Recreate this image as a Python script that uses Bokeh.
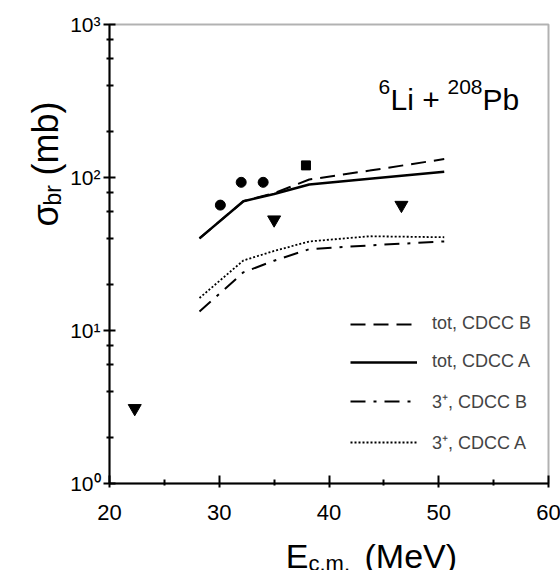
import math
from bokeh.plotting import figure
from bokeh.models import Label, Legend, LegendItem, FixedTicker, Range1d, BoxAnnotation
from bokeh.embed import file_html
from bokeh.resources import INLINE

# ---- data ----
circ_e = [30.1, 32.0, 34.0]
circ_sig = [66, 93, 93]
sq_e = [37.9]
sq_sig = [120]
tri_e = [22.3, 35.0, 46.6]
tri_sig = [3.1, 53, 66]

calc_e = [28.2, 32.2, 35.0, 38.2, 43.7, 50.5]
tot_cdcc_b = [40, 70, 79, 97, 111, 132]
tot_cdcc_a = [40, 70, 78, 90, 98, 109]
ex3_cdcc_b = [13.3, 24.0, 28.6, 34.0, 36.0, 38.2]
ex3_cdcc_a = [16.3, 28.7, 33.1, 38.2, 41.3, 40.7]

x_start, x_end = 20, 60
y_start, y_end = 1, 1000
x_ticks = [20, 30, 40, 50, 60]
x_tick_labels = ["20", "30", "40", "50", "60"]
x_minor = [25, 35, 45, 55]
y_ticks = [1, 10, 100, 1000]
y_tick_labels = ["10\u2070", "10\u00b9", "10\u00b2", "10\u00b3"]
y_minor = [m * d for d in (1, 10, 100) for m in (2, 4, 6, 8)]

FONT = "Liberation Sans"

# ---- layout: the frame spans the whole window; the plot box sits inside it ----
LEFT, TOP = 10, 12
FW, FH = 552, 558
BOX_L, BOX_W, BOX_T, BOX_H = 99, 439, 12, 459
kx = (x_end - x_start) / BOX_W
dec = BOX_H / math.log10(y_end / y_start)
x_lo = x_start - BOX_L * kx
x_hi = x_start + (FW - BOX_L) * kx
y_hi = y_end * 10 ** (BOX_T / dec)
y_lo = y_start * 10 ** (-(FH - BOX_T - BOX_H) / dec)

p = figure(frame_width=FW, frame_height=FH, x_range=Range1d(x_lo, x_hi),
           y_range=Range1d(y_lo, y_hi), y_axis_type="log",
           x_axis_location="above", y_axis_location="left",
           output_backend="svg", toolbar_location=None,
           min_border_left=LEFT, min_border_right=0, min_border_top=TOP, min_border_bottom=0)
p.xgrid.grid_line_color = None
p.ygrid.grid_line_color = None
p.outline_line_color = None
p.background_fill_color = "white"
p.border_fill_color = "white"

p.add_layout(BoxAnnotation(left=x_start, right=x_end, bottom=y_start, top=y_end,
                           fill_color=None, line_color="black", line_width=2))

xa, ya = p.xaxis[0], p.yaxis[0]
xa.fixed_location = y_start
ya.fixed_location = x_start
xa.bounds = (x_start, x_end)
ya.bounds = (y_start, y_end)
xa.ticker = FixedTicker(ticks=x_ticks, minor_ticks=x_minor)
ya.ticker = FixedTicker(ticks=y_ticks, minor_ticks=y_minor)
for ax in (xa, ya):
    ax.axis_line_width = 2
    ax.major_tick_line_width = 2
    ax.minor_tick_line_width = 2
    ax.major_label_text_font_size = "1px"
    ax.major_label_text_color = None
    ax.major_label_standoff = 0
# x axis sits in the top panel, so its "out" side points into the box
xa.major_tick_out, xa.major_tick_in = 8, 4
xa.minor_tick_out, xa.minor_tick_in = 4, 2
ya.major_tick_out, ya.major_tick_in = 6, 6
ya.minor_tick_out, ya.minor_tick_in = 3, 4

# curves
r_tb = p.line(calc_e, tot_cdcc_b, line_color="black", line_width=2, line_dash="15 8")
r_ta = p.line(calc_e, tot_cdcc_a, line_color="black", line_width=2.5)
r_3b = p.line(calc_e, ex3_cdcc_b, line_color="black", line_width=2, line_dash="15 8 3 8")
r_3a = p.line(calc_e, ex3_cdcc_a, line_color="black", line_width=1.8, line_dash="2 2")

# data points
p.scatter(circ_e, circ_sig, marker="circle", size=10, color="black")
p.scatter(sq_e, sq_sig, marker="square", size=9, color="black")
p.scatter(tri_e, tri_sig, marker="inverted_triangle", size=13, color="black")

legend = Legend(items=[
    LegendItem(label="tot, CDCC B", renderers=[r_tb]),
    LegendItem(label="tot, CDCC A", renderers=[r_ta]),
    LegendItem(label="3\u207a, CDCC B", renderers=[r_3b]),
    LegendItem(label="3\u207a, CDCC A", renderers=[r_3a]),
], location=(BOX_L + 241, FH - BOX_T - BOX_H + 29), border_line_color=None,
    background_fill_alpha=0, padding=0, margin=0, spacing=17, glyph_width=67,
    glyph_height=20, label_height=20, label_standoff=15, label_text_font=FONT,
    label_text_font_size="18px")
p.add_layout(legend, "center")

def lab(x, y, text, size, dx=0, dy=0, align="left", baseline="alphabetic", angle=0):
    p.add_layout(Label(x=x, y=y, x_offset=dx, y_offset=dy, text=text,
                       text_font=FONT, text_font_size=size, text_color="black",
                       text_align=align, text_baseline=baseline, angle=angle))

# tick labels
for v, t in zip(x_ticks, x_tick_labels):
    lab(v, y_start, t, "22px", 0, -29, align="center")
for v, t in zip(y_ticks, y_tick_labels):
    lab(x_start, v, t, "21px", -9, 0, align="right", baseline="middle")

# x axis title: E_c.m. (MeV)
lab(x_start, y_start, "E", "34px", 199, -72, align="right")
lab(x_start, y_start, "c.m.", "22px", 199, -80)
lab(x_start, y_start, "(MeV)", "34px", 255, -72)

# y axis title: sigma_br (mb), rotated to read upwards
ang = math.pi / 2
lab(x_start, y_start, "\u03c3", "36px", -64, 257, angle=ang)
lab(x_start, y_start, "br", "23px", -57, 278, angle=ang)
lab(x_start, y_start, "(mb)", "36px", -64, 308, angle=ang)

# reaction label: 6Li + 208Pb
lab(x_start, y_start, "6", "21px", 269, 397)
lab(x_start, y_start, "Li + ", "30px", 281, 384)
lab(x_start, y_start, "208", "21px", 338, 397)
lab(x_start, y_start, "Pb", "30px", 373, 384)

open("out.html", "w").write(file_html(p, INLINE))
